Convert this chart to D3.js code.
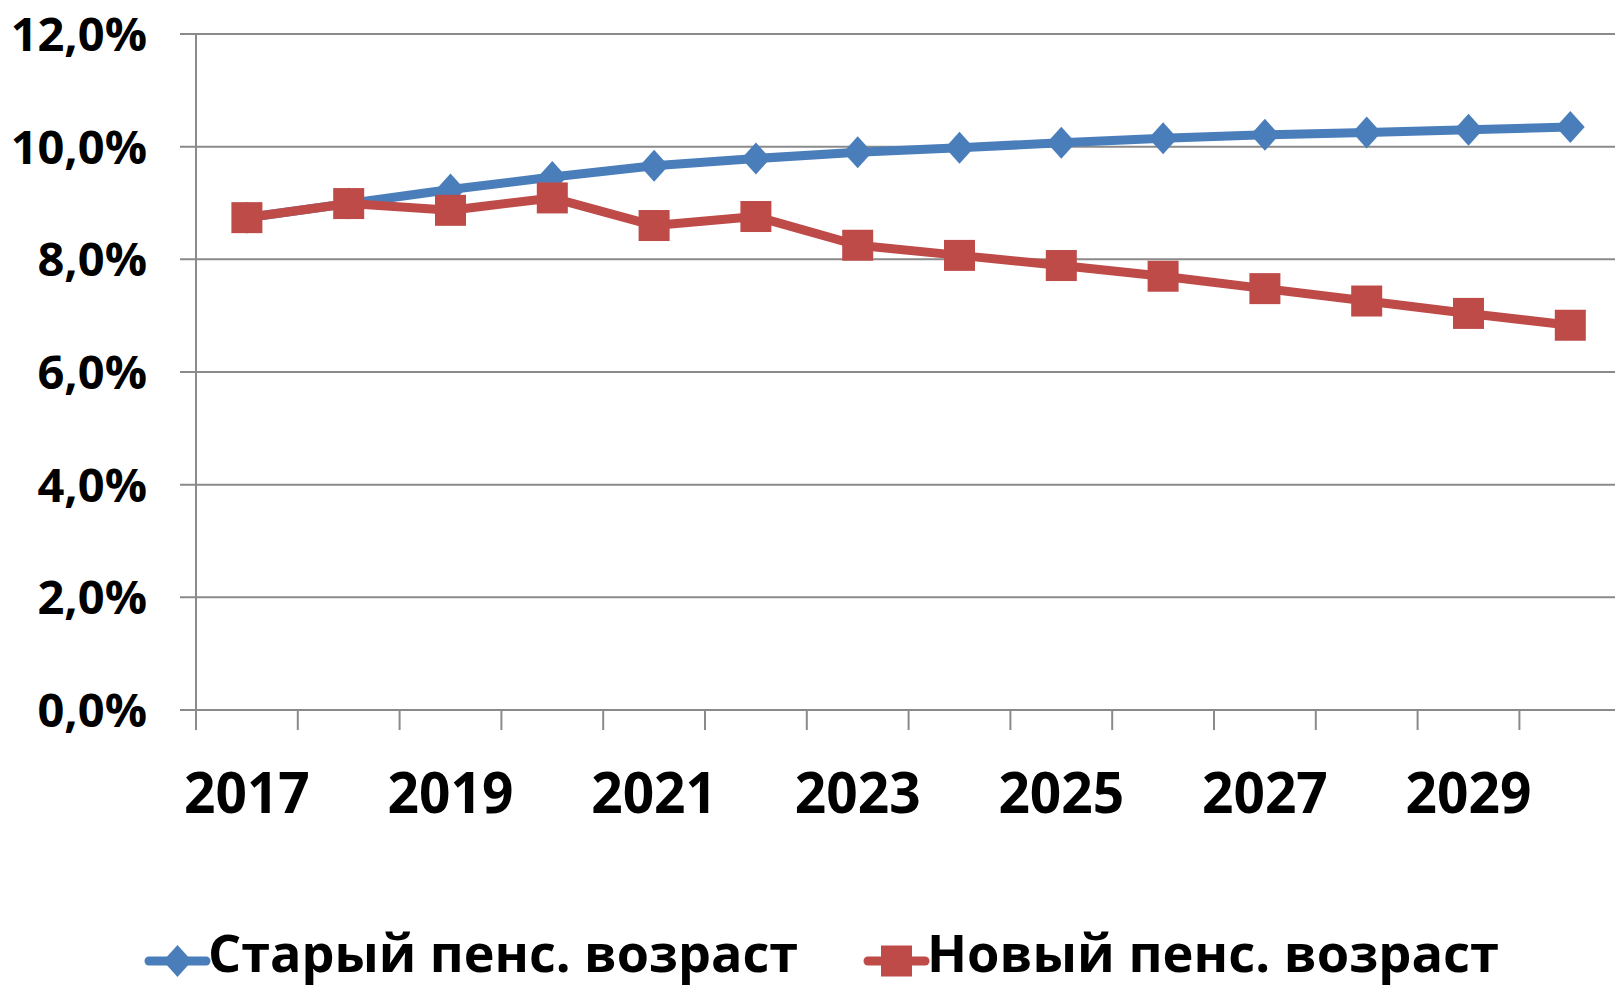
<!DOCTYPE html>
<html>
<head>
<meta charset="utf-8">
<script src="https://cdn.jsdelivr.net/npm/d3@7"></script>
<style>
  body { margin: 0; background: #fff; }
  text { font-family: "Open Sans", sans-serif; font-weight: bold; fill: #000; }
</style>
</head>
<body>
<div id="chart"></div>
<script>
const years = [2017, 2018, 2019, 2020, 2021, 2022, 2023, 2024, 2025, 2026, 2027, 2028, 2029, 2030];
const oldAge = [8.74, 8.99, 9.24, 9.46, 9.66, 9.79, 9.90, 9.98, 10.07, 10.15, 10.21, 10.25, 10.30, 10.35];
const newAge = [8.74, 8.99, 8.87, 9.09, 8.60, 8.76, 8.25, 8.07, 7.89, 7.70, 7.48, 7.26, 7.04, 6.83];
const yTicks = [0, 2, 4, 6, 8, 10, 12];
const seriesNames = ["Старый пенс. возраст", "Новый пенс. возраст"];

const width = 1615;
const height = 989;

const svg = d3.select("#chart")
  .append("svg")
  .attr("width", width)
  .attr("height", height);

const x = d3.scaleBand()
  .domain(years)
  .range([196, 196 + 14 * 101.8]);

const y = d3.scaleLinear()
  .domain([0, 12])
  .range([710, 34]);

const gray = "#8a8a8a";

//Gridlines
svg.selectAll(".grid")
  .data(yTicks)
  .enter()
  .append("line")
  .attr("x1", 180)
  .attr("x2", width)
  .attr("y1", d => y(d))
  .attr("y2", d => y(d))
  .attr("stroke", gray)
  .attr("stroke-width", 2);

//Y axis line
svg.append("line")
  .attr("x1", x.range()[0])
  .attr("x2", x.range()[0])
  .attr("y1", y(12))
  .attr("y2", y(0) + 20)
  .attr("stroke", gray)
  .attr("stroke-width", 2);

//X ticks between categories
svg.selectAll(".xtick")
  .data(years.slice(1))
  .enter()
  .append("line")
  .attr("x1", d => x(d))
  .attr("x2", d => x(d))
  .attr("y1", y(0))
  .attr("y2", y(0) + 20)
  .attr("stroke", gray)
  .attr("stroke-width", 2);

//Y labels
svg.selectAll(".ylabel")
  .data(yTicks)
  .enter()
  .append("text")
  .attr("x", 147)
  .attr("y", d => y(d) + 17)
  .attr("text-anchor", "end")
  .style("font-size", "47px")
  .text(d => d.toFixed(1).replace(".", ",") + "%");

//X labels (every other year)
svg.selectAll(".xlabel")
  .data(years.filter((d, i) => i % 2 === 0))
  .enter()
  .append("text")
  .attr("transform", d => `translate(${x(d) + x.bandwidth() / 2}, 813) scale(1, 1.05)`)
  .attr("text-anchor", "middle")
  .style("font-size", "55px")
  .text(d => d);

const line = d3.line()
  .x((d, i) => x(years[i]) + x.bandwidth() / 2)
  .y(d => y(d));

const blue = "#4a7ebb";
const red = "#be4b48";

const diamond = (cx, cy, s) =>
  `M${cx},${cy - s}L${cx + s * 0.9},${cy}L${cx},${cy + s}L${cx - s * 0.9},${cy}Z`;

//Old age series
svg.append("path")
  .datum(oldAge)
  .attr("d", line)
  .attr("fill", "none")
  .attr("stroke", blue)
  .attr("stroke-width", 9)
  .attr("stroke-linejoin", "round");

svg.selectAll(".dia")
  .data(oldAge)
  .enter()
  .append("path")
  .attr("d", (d, i) => diamond(x(years[i]) + x.bandwidth() / 2, y(d), 16))
  .attr("fill", blue);

//New age series
svg.append("path")
  .datum(newAge)
  .attr("d", line)
  .attr("fill", "none")
  .attr("stroke", red)
  .attr("stroke-width", 9)
  .attr("stroke-linejoin", "round");

svg.selectAll(".sq")
  .data(newAge)
  .enter()
  .append("rect")
  .attr("x", (d, i) => x(years[i]) + x.bandwidth() / 2 - 15.5)
  .attr("y", d => y(d) - 15.5)
  .attr("width", 31)
  .attr("height", 31)
  .attr("fill", red);

//Legend
const legend = [
  { name: seriesNames[0], color: blue, x: 149, shape: "diamond", textEnd: 798 },
  { name: seriesNames[1], color: red, x: 868, shape: "square", textEnd: 1499 }
];
const ly = 961;

legend.forEach(l => {
  svg.append("line")
    .attr("x1", l.x)
    .attr("x2", l.x + 57)
    .attr("y1", ly)
    .attr("y2", ly)
    .attr("stroke", l.color)
    .attr("stroke-width", 9)
    .attr("stroke-linecap", "round");
  const cx = l.x + 28.5;
  if (l.shape === "diamond") {
    svg.append("path").attr("d", diamond(cx, ly, 16)).attr("fill", l.color);
  } else {
    svg.append("rect")
      .attr("x", cx - 15.5).attr("y", ly - 15.5)
      .attr("width", 31).attr("height", 31)
      .attr("fill", l.color);
  }
  svg.append("text")
    .attr("x", l.x + 59)
    .attr("y", 972)
    .style("font-size", "52px")
    .attr("textLength", l.textEnd - (l.x + 59))
    .attr("lengthAdjust", "spacingAndGlyphs")
    .text(l.name);
});
</script>
</body>
</html>
